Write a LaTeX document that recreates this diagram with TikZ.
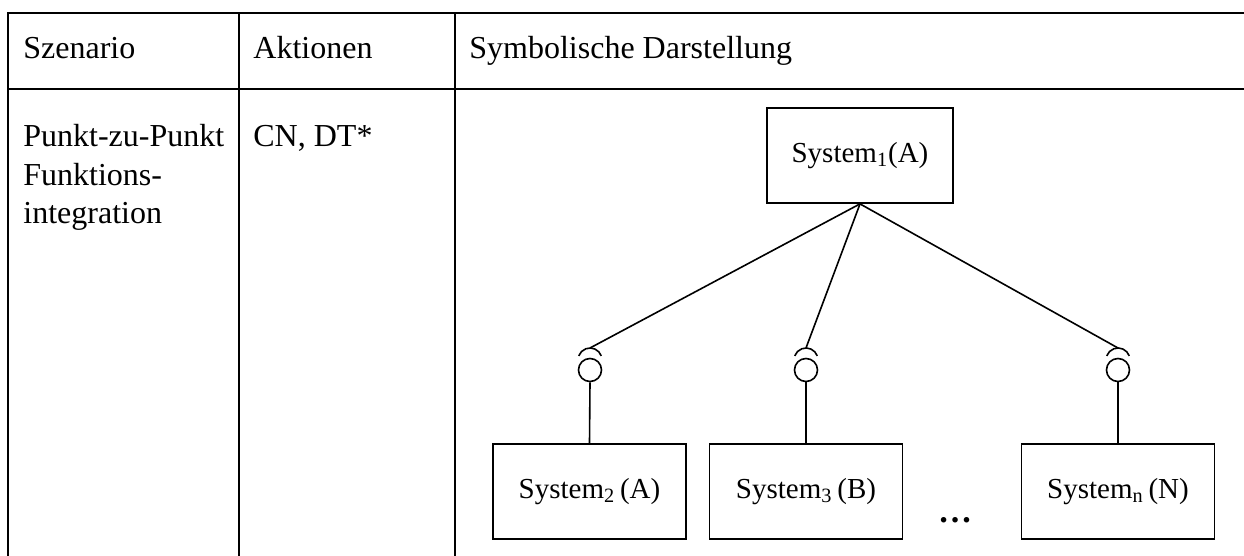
\documentclass[tikz,border=0pt]{standalone}
\usepackage{fontspec}
\setmainfont{Liberation Serif}
\begin{document}
\begin{tikzpicture}[x=0.5pt,y=-0.5pt,
  tabline/.style={line width=1.1pt},
  txt/.style={anchor=base west,inner sep=0pt,font=\fontsize{16}{19}\selectfont},
  sysbox/.style={draw,line width=0.9pt,inner sep=0pt,minimum width=96.5pt,minimum height=47.5pt,font=\fontsize{14.5}{17}\selectfont},
  conn/.style={line width=0.8pt},
  sockball/.style={draw,circle,line width=0.8pt,inner sep=0pt,minimum size=11.5pt}]
\useasboundingbox (0,0) rectangle (1244,556);
% table grid
\draw[tabline] (8,556) -- (8,13) -- (1244,13);
\draw[tabline] (8,89) -- (1244,89);
\draw[tabline] (239,13) -- (239,556);
\draw[tabline] (455,13) -- (455,556);
% header texts
\node[txt] (h1) at (23,59) {Szenario};
\node[txt] (h2) at (253,59) {Aktionen};
\node[txt] (h3) at (469,59) {Symbolische Darstellung};
% row texts
\node[txt] (r1) at (23,147) {Punkt-zu-Punkt};
\node[txt] (r2) at (23,185.5) {Funktions-};
\node[txt] (r3) at (23,224) {integration};
\node[txt] (a1) at (253,147) {CN, DT*};
% systems
\node[sysbox,minimum width=93pt] (S1) at (860,155.5) {System\textsubscript{1}(A)};
\node[sysbox] (S2) at (589.5,491.5) {System\textsubscript{2}\,(A)};
\node[sysbox] (S3) at (806,491.5) {System\textsubscript{3}\,(B)};
\node[sysbox] (SN) at (1118,491.5) {System\textsubscript{n}\,(N)};
\node[inner sep=0pt,font=\fontsize{17}{19}\selectfont\bfseries] (dots) at (955,520) {\ldots};
% sockets
\foreach \n/\x in {2/590,3/806,N/1118}{
  \coordinate (k\n) at (\x,348);
  \node[sockball] (c\n) at (\x,370) {};
  \draw[conn] (\x+11.28,355.9) arc[start angle=20,end angle=160,radius=6pt];
  \draw[conn] (S1.south) -- (k\n);
  \draw[conn] (c\n.south) -- (S\n.north);
}
\end{tikzpicture}
\end{document}
